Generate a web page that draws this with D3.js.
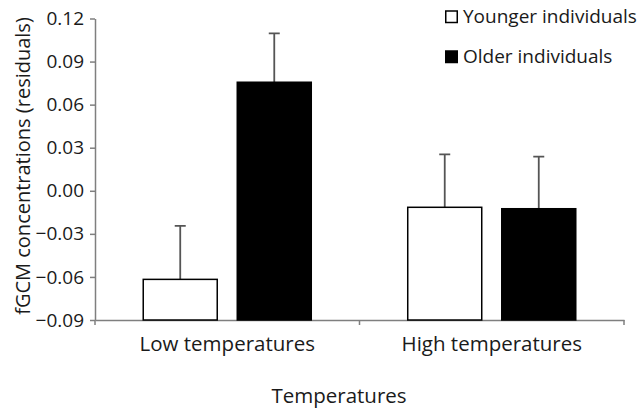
<!DOCTYPE html>
<html>
<head>
<meta charset="utf-8">
<script src="https://cdn.jsdelivr.net/npm/d3@7"></script>
<style>
  body { margin: 0; background: #fff; }
  text { font-family: "Open Sans", sans-serif; fill: #1a1a1a; }
  .domain, .tick line { stroke: #7f7f7f; stroke-width: 1.5px; }
</style>
</head>
<body>
<div id="wrapper"></div>
<script>
// data
const categories = ["Low temperatures", "High temperatures"]
const seriesNames = ["Younger individuals", "Older individuals"]
const youngerMeans = [-0.0617, -0.0115]
const youngerErrors = [0.0373, 0.0369]
const olderMeans = [0.0756, -0.0125]
const olderErrors = [0.0341, 0.0363]
const yTicks = [-0.09, -0.06, -0.03, 0.00, 0.03, 0.06, 0.09, 0.12]

function drawChart() {
  const dataset = categories.map((c, i) => ({
    category: c,
    values: [
      { series: seriesNames[0], mean: youngerMeans[i], err: youngerErrors[i] },
      { series: seriesNames[1], mean: olderMeans[i], err: olderErrors[i] }
    ]
  }))

  let dimensions = {
    width: 639,
    height: 411,
    margin: {
      top: 18.5,
      right: 15,
      bottom: 91,
      left: 95
    }
  }
  dimensions.boundedWidth = dimensions.width
    - dimensions.margin.left
    - dimensions.margin.right
  dimensions.boundedHeight = dimensions.height
    - dimensions.margin.top
    - dimensions.margin.bottom

  const wrapper = d3.select("#wrapper")
    .append("svg")
      .attr("width", dimensions.width)
      .attr("height", dimensions.height)

  const bounds = wrapper.append("g")
    .attr("transform", `translate(${dimensions.margin.left}, ${dimensions.margin.top})`)

  // scales
  const x0 = d3.scaleBand()
    .domain(categories)
    .range([0, dimensions.boundedWidth])

  const x1 = d3.scaleBand()
    .domain(seriesNames)
    .range([0, x0.bandwidth()])
    .paddingInner(0.213)
    .paddingOuter(0.513)

  const yScale = d3.scaleLinear()
    .domain([-0.09, 0.12])
    .range([dimensions.boundedHeight, 0])

  const fillColor = d3.scaleOrdinal()
    .domain(seriesNames)
    .range(["#ffffff", "#000000"])

  // axes
  const yAxis = bounds.append("g")
    .call(d3.axisLeft(yScale)
      .tickValues(yTicks)
      .tickFormat(d3.format(".2f"))
      .tickSize(5)
      .tickSizeOuter(0)
      .tickPadding(6))
  yAxis.selectAll(".tick text").style("font-size", "19px")

  const xAxis = bounds.append("g")
    .attr("transform", `translate(0, ${dimensions.boundedHeight})`)
    .call(d3.axisBottom(x0).tickSize(0).tickSizeOuter(0).tickPadding(16))
  xAxis.selectAll(".tick text").style("font-size", "20.5px")

  // tick marks at category boundaries
  const edges = [0, ...categories.map(c => x0(c) + x0.bandwidth())]
  xAxis.selectAll(".edge")
    .data(edges)
    .enter().append("line")
      .attr("class", "edge")
      .attr("x1", d => d)
      .attr("x2", d => d)
      .attr("y1", 0)
      .attr("y2", 5)
      .attr("stroke", "#7f7f7f")
      .attr("stroke-width", 1.5)

  // bars
  const groups = bounds.selectAll(".group")
    .data(dataset)
    .enter().append("g")
      .attr("class", "group")
      .attr("transform", d => `translate(${x0(d.category)}, 0)`)

  groups.selectAll(".err")
    .data(d => d.values)
    .enter().append("path")
      .attr("class", "err")
      .attr("fill", "none")
      .attr("stroke", "#555")
      .attr("stroke-width", 1.8)
      .attr("d", d => {
        const cx = x1(d.series) + x1.bandwidth() / 2
        const top = yScale(d.mean + d.err)
        return `M${cx},${yScale(d.mean)}V${top}M${cx - 5.5},${top}H${cx + 5.5}`
      })

  groups.selectAll("rect")
    .data(d => d.values)
    .enter().append("rect")
      .attr("x", d => x1(d.series))
      .attr("width", x1.bandwidth())
      .attr("y", d => yScale(d.mean))
      .attr("height", d => yScale(-0.09) - yScale(d.mean))
      .attr("fill", d => fillColor(d.series))
      .attr("stroke", "#000")
      .attr("stroke-width", 1.5)

  // labels
  wrapper.append("text")
    .attr("x", 339)
    .attr("y", 403)
    .attr("text-anchor", "middle")
    .style("font-size", "20.5px")
    .text("Temperatures")

  wrapper.append("text")
    .attr("transform", "translate(30, 166) rotate(-90)")
    .attr("text-anchor", "middle")
    .style("font-size", "20px")
    .text("fGCM concentrations (residuals)")

  // legend
  const legend = wrapper.append("g")
    .attr("transform", "translate(445, 0)")

  const legendItems = legend.selectAll(".item")
    .data(seriesNames)
    .enter().append("g")
      .attr("class", "item")
      .attr("transform", (d, i) => `translate(0, ${i * 40})`)

  legendItems.append("rect")
    .attr("x", 0.75)
    .attr("y", 11)
    .attr("width", 11.5)
    .attr("height", 11.5)
    .attr("fill", d => fillColor(d))
    .attr("stroke", "#000")
    .attr("stroke-width", 1.5)

  legendItems.append("text")
    .attr("x", 18)
    .attr("y", 23)
    .style("font-size", "19px")
    .text(d => d)
}

drawChart()
</script>
</body>
</html>
